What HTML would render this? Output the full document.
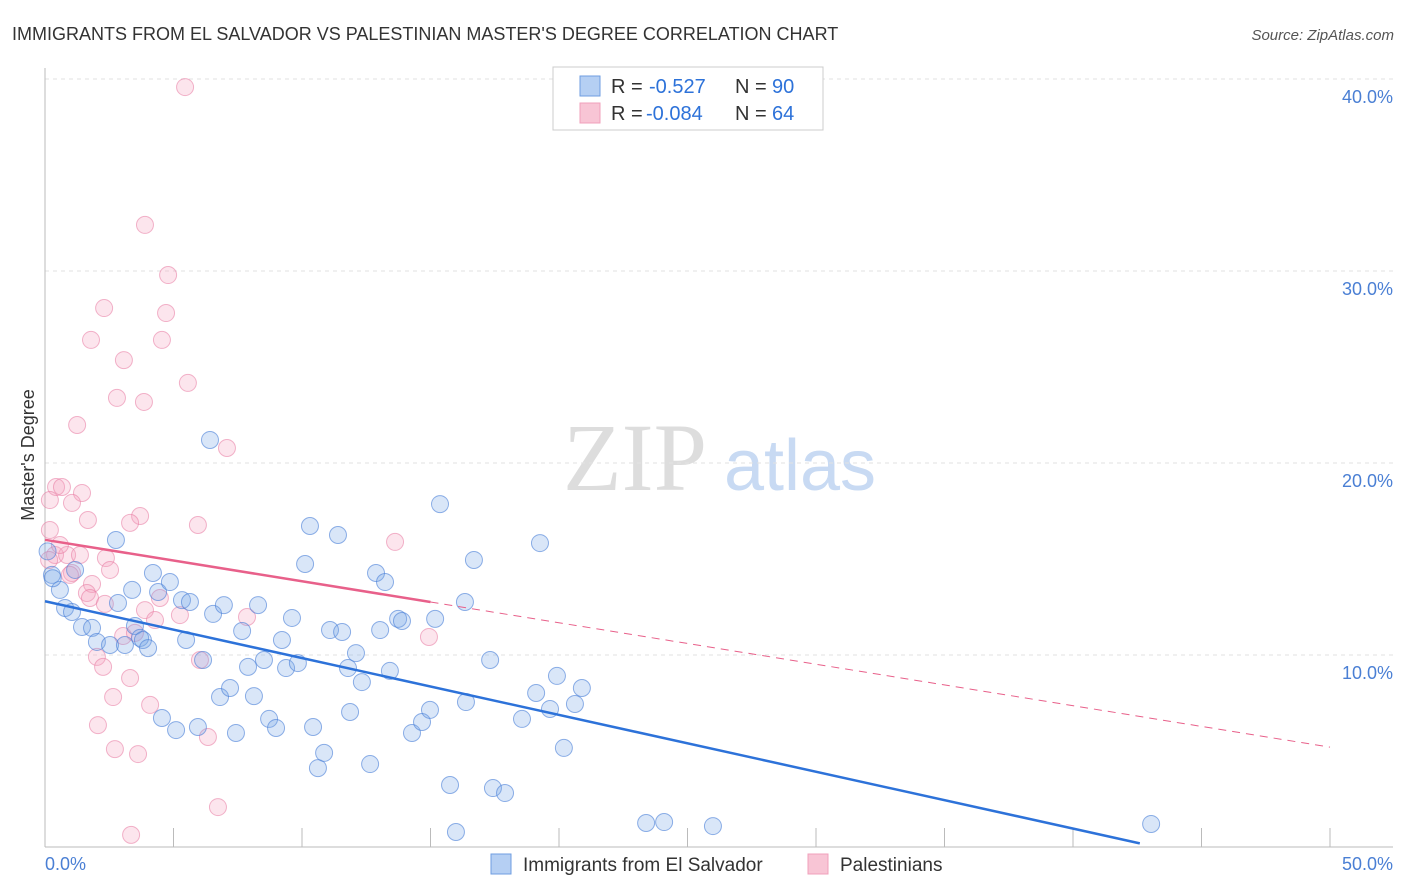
<!DOCTYPE html>
<html><head><meta charset="utf-8"><style>
body{margin:0;background:#fff;font-family:"Liberation Sans",sans-serif;}
svg{display:block}
</style></head><body>
<svg id="chart" width="1406" height="892">
<text x="12" y="40" font-size="18" fill="#333">IMMIGRANTS FROM EL SALVADOR VS PALESTINIAN MASTER'S DEGREE CORRELATION CHART</text>
<text x="1394" y="40" font-size="15" fill="#555" font-style="italic" text-anchor="end">Source: ZipAtlas.com</text>
<g>
<text x="635" y="490" font-size="96" font-family="Liberation Serif,serif" fill="#ddd" text-anchor="middle">ZIP</text>
<text x="800" y="490" font-size="72" fill="#c8daf3" text-anchor="middle">atlas</text>
</g>
<g id="grid"></g>
<g id="marks"></g>
<text transform="translate(34,455) rotate(-90)" font-size="18" fill="#333" text-anchor="middle">Master's Degree</text>
<text x="45" y="870" font-size="18" fill="#4a7fd4">0.0%</text>
<text x="1393" y="870" font-size="18" fill="#4a7fd4" text-anchor="end">50.0%</text>
<g>
<rect x="553" y="67" width="270" height="63" fill="#fff" stroke="#ccc"/>
<rect x="580" y="76" width="20" height="20" fill="#b5cff3" stroke="#6f9ee0"/>
<text x="611" y="93" font-size="20" fill="#333">R = </text><text x="649" y="93" font-size="20" fill="#2d72d9">-0.527</text>
<text x="735" y="93" font-size="20" fill="#333">N = </text><text x="772" y="93" font-size="20" fill="#2d72d9">90</text>
<rect x="580" y="103" width="20" height="20" fill="#f8c5d5" stroke="#f0a0bb"/>
<text x="611" y="120" font-size="20" fill="#333">R = </text><text x="646" y="120" font-size="20" fill="#2d72d9">-0.084</text>
<text x="735" y="120" font-size="20" fill="#333">N = </text><text x="772" y="120" font-size="20" fill="#2d72d9">64</text>
</g>
<g>
<rect x="491" y="854" width="20" height="20" fill="#b5cff3" stroke="#6f9ee0"/>
<text x="523" y="871" font-size="19" fill="#333">Immigrants from El Salvador</text>
<rect x="808" y="854" width="20" height="20" fill="#f8c5d5" stroke="#f0a0bb"/>
<text x="840" y="871" font-size="19" fill="#333">Palestinians</text>
</g>
</svg>
<script>
const yTicks=[10,20,30,40];
const yTickLabels=["10.0%","20.0%","30.0%","40.0%"];
const xTicks=[0,5,10,15,20,25,30,35,40,45,50];
const blueX=[0.27,0.58,0.78,1.05,1.17,1.44,1.83,2.02,2.53,2.76,2.84,3.11,3.39,3.50,3.70,3.81,4.01,4.20,4.40,4.55,4.86,5.10,5.33,5.49,5.64,5.95,6.15,6.42,6.54,6.81,6.96,7.20,7.43,7.67,7.90,8.13,8.29,8.52,8.72,8.99,9.22,9.38,9.61,9.84,10.12,10.31,10.43,10.62,10.86,11.09,11.40,11.56,11.79,11.87,12.10,12.33,12.65,12.88,13.04,13.23,13.42,13.74,13.89,14.28,14.67,14.98,15.18,15.37,15.76,15.99,16.34,16.38,16.69,17.32,17.43,17.90,18.56,19.11,19.26,19.65,19.92,20.19,20.62,20.89,23.39,24.09,25.99,43.04,0.1,0.3];
const blueY=[14.17,13.39,12.45,12.24,14.43,11.46,11.41,10.68,10.52,15.99,12.71,10.52,13.39,11.51,10.89,10.78,10.36,14.27,13.28,6.72,13.80,6.09,12.86,10.78,12.76,6.25,9.74,21.20,12.14,7.81,12.60,8.28,5.94,11.25,9.38,7.86,12.60,9.74,6.67,6.20,10.78,9.32,11.93,9.58,14.74,16.72,6.25,4.11,4.90,11.30,16.25,11.20,9.32,7.03,10.10,8.59,4.32,14.27,11.30,13.80,9.17,11.88,11.77,5.94,6.51,7.14,11.88,17.86,3.23,0.78,12.76,7.55,14.95,9.74,3.07,2.81,6.67,8.02,15.83,7.19,8.91,5.16,7.45,8.28,1.25,1.30,1.09,1.20,15.4,14.0];
const pinkX=[5.45,3.89,4.79,2.30,4.71,1.79,4.55,3.07,5.56,2.80,3.85,1.25,7.08,0.43,1.44,0.66,0.19,1.05,3.70,5.95,1.67,3.31,13.62,0.19,0.39,0.86,1.36,2.37,2.53,1.05,1.83,1.63,1.75,4.47,2.33,5.25,7.86,3.04,3.50,14.94,2.02,6.03,2.26,2.65,3.31,4.09,2.06,6.34,2.72,3.62,6.73,3.35,0.58,0.16,0.97,3.89,4.28];
const pinkY=[39.58,32.40,29.79,28.07,27.81,26.41,26.41,25.36,24.17,23.39,23.18,21.98,20.78,18.75,18.44,18.75,18.07,17.92,17.24,16.77,17.03,16.88,15.89,16.51,15.21,15.21,15.21,15.05,14.43,14.27,13.70,13.23,12.97,12.97,12.66,12.08,11.98,10.99,11.15,10.94,9.90,9.74,9.38,7.81,8.80,7.40,6.35,5.73,5.10,4.84,2.08,0.63,15.73,14.95,14.17,12.34,11.82];
const blueTrend=[12.8,-0.296,42.6];
const pinkTrend=[16.0,-0.216,15,50];
const NS="http://www.w3.org/2000/svg";
const X=v=>45+v*25.7, Y=v=>847-v*19.2;
function mk(t,a,p){const e=document.createElementNS(NS,t);for(const k in a)e.setAttribute(k,a[k]);p.appendChild(e);return e;}
const grid=document.getElementById('grid'), marks=document.getElementById('marks');
yTicks.forEach((t,i)=>{
 const l=mk('line',{x1:45,x2:1393,y1:Y(t),y2:Y(t),stroke:'#e2e2e2','stroke-dasharray':'4,4'},grid);
 
 
 const tx=mk('text',{x:1393,y:Y(t)+24,'font-size':18,fill:'#4a7fd4','text-anchor':'end'},grid);
 tx.textContent=yTickLabels[i];
 
 
});
const ya=mk('line',{x1:45,x2:45,y1:68,y2:847,stroke:'#bbb'},grid);


const xa=mk('line',{x1:45,x2:1393,y1:847,y2:847,stroke:'#bbb'},grid);


xTicks.forEach(t=>{
 const l=mk('line',{x1:X(t),x2:X(t),y1:828,y2:847,stroke:'#bbb'},grid);
 
 
});
function pts(xs,ys,fill,stroke,name){
 xs.forEach((x,i)=>{
  const c=mk('circle',{cx:X(x),cy:Y(ys[i]),r:8.5,fill:fill,stroke:stroke,'stroke-width':1},marks);
  
  
 });
}
pts(pinkX,pinkY,'rgba(244,160,190,0.28)','rgba(232,120,160,0.55)','palestinian-point');
pts(blueX,blueY,'rgba(120,165,230,0.28)','rgba(70,125,215,0.6)','el-salvador-point');
const bl=mk('line',{x1:X(0),y1:Y(blueTrend[0]),x2:X(blueTrend[2]),y2:Y(blueTrend[0]+blueTrend[1]*blueTrend[2]),stroke:'#2d72d9','stroke-width':2.5},marks);


const pl=mk('line',{x1:X(0),y1:Y(pinkTrend[0]),x2:X(pinkTrend[2]),y2:Y(pinkTrend[0]+pinkTrend[1]*pinkTrend[2]),stroke:'#e8608a','stroke-width':2.5},marks);


const pd=mk('line',{x1:X(pinkTrend[2]),y1:Y(pinkTrend[0]+pinkTrend[1]*pinkTrend[2]),x2:X(pinkTrend[3]),y2:Y(pinkTrend[0]+pinkTrend[1]*pinkTrend[3]),stroke:'#e8608a','stroke-width':1,'stroke-dasharray':'8,6'},marks);


</script>
</body></html>
